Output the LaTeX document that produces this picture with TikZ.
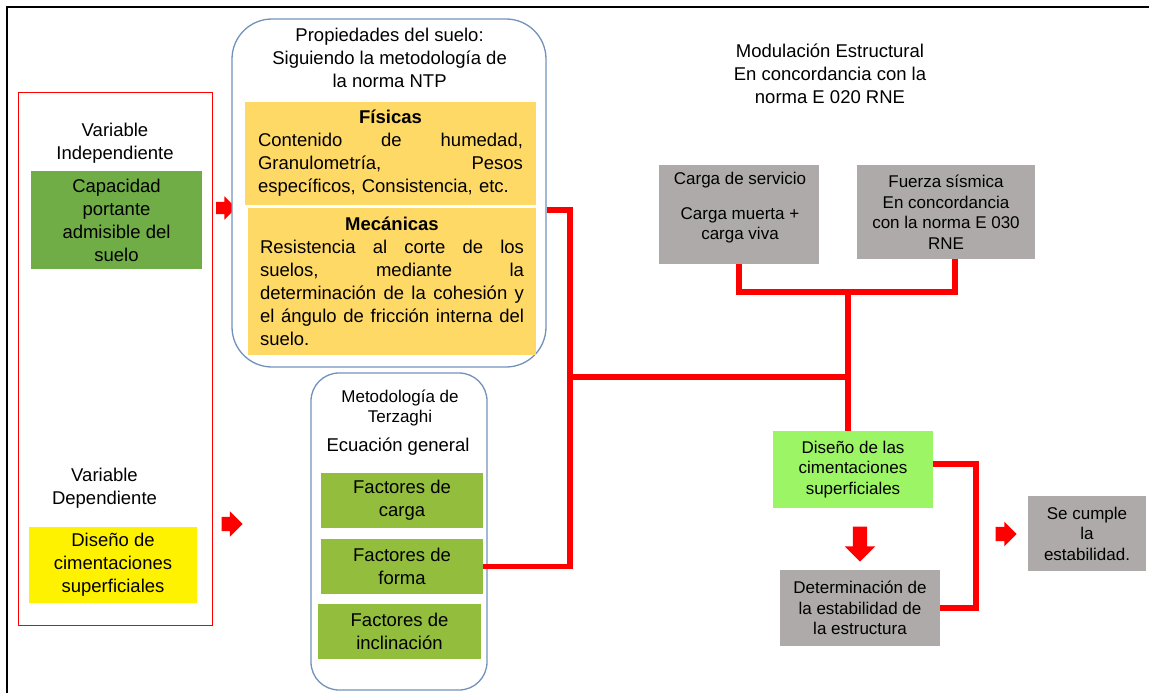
\documentclass[tikz,border=0pt]{standalone}
\usepackage{fontspec}
\setmainfont{Liberation Sans}
\usetikzlibrary{shapes.arrows}
\definecolor{dgreen}{RGB}{112,173,71}
\definecolor{ogreen}{RGB}{146,189,61}
\definecolor{lgreen}{RGB}{155,245,100}
\definecolor{ambar}{RGB}{255,217,102}
\definecolor{grisbox}{RGB}{174,170,170}
\definecolor{roundcol}{RGB}{114,146,186}
\begin{document}
\begin{tikzpicture}[x=1pt,y=-1pt,
  fb/.style={font=\fontsize{18.5}{23}\selectfont},
  fs/.style={font=\fontsize{17}{20.5}\selectfont},
  fillbox/.style={inner sep=0pt, align=center, text=black},
  redline/.style={draw=red, line width=5.5pt},
  barrow/.style={single arrow, fill=red, draw=none, inner xsep=0pt, outer sep=0pt, single arrow tip angle=90},
  roundbox/.style={draw=roundcol, line width=1.3pt, fill=white},
]
\useasboundingbox (0,0) rectangle (1149,693);
\fill[white] (0,0) rectangle (1149,693);
\draw[line width=2pt] (7,693) -- (7,7) -- (1149,7);

% variables
\node[draw=red, line width=1pt, minimum width=194pt, minimum height=532pt, inner sep=0pt] (vars) at (115,359) {};
\node[fb, align=center] (indlab) at (115,143.6) {Variable\\Independiente};
\node[fillbox, fb, fill=dgreen, minimum width=171pt, minimum height=98pt] (capac) at (116.5,220) {Capacidad\\portante\\admisible del\\suelo};
\node[fb, align=center] (deplab) at (104.5,488.6) {Variable\\Dependiente};
\node[fillbox, fb, fill=yellow, minimum width=168pt, minimum height=76pt] (ydep) at (113,565) {Diseño de\\cimentaciones\\superficiales};

% arrows
\node[barrow, inner ysep=6pt, minimum height=20pt, minimum width=23pt, single arrow head extend=5.5pt] (ar1) at (223,208) {};
\node[barrow, inner ysep=7pt, minimum height=21pt, minimum width=25pt, single arrow head extend=5.5pt] (ar2) at (228.5,524) {};
\node[barrow, inner ysep=7pt, rotate=-90, minimum height=35pt, minimum width=30pt, single arrow head extend=8pt] (ar3) at (860,540.5) {};
\node[barrow, inner ysep=7pt, minimum height=21pt, minimum width=24pt, single arrow head extend=5pt] (ar4) at (1002.5,534) {};

% propiedades
\node[roundbox, rounded corners=40pt, minimum width=314pt, minimum height=348pt] (prop) at (389,193) {};
\node[fb, align=center] (proptit) at (389.6,57.5) {Propiedades del suelo:\\Siguiendo la metodología de\\la norma NTP};
\node[fillbox, fb, fill=ambar, text width=265pt, inner xsep=13pt, minimum height=103pt, align=left] (fis) at (390.5,153.5)
 {\parindent=0pt\hfill\textbf{Físicas}\hfill\mbox{}\\Contenido\hfill de\hfill humedad,\\Granulometría,\hfill Pesos\\específicos, Consistencia, etc.};
\node[fillbox, fb, fill=ambar, text width=264pt, inner xsep=12pt, minimum height=147pt, align=left] (mec) at (392,281.5)
 {\parindent=0pt\hfill\textbf{Mecánicas}\hfill\mbox{}\\Resistencia\hfill al\hfill corte\hfill de\hfill los\\suelos,\hfill mediante\hfill la\\determinación\hfill de\hfill la\hfill cohesión\hfill y\\el\hfill ángulo\hfill de\hfill fricción\hfill interna\hfill del\\suelo.};

% Terzaghi
\node[roundbox, rounded corners=28pt, minimum width=176pt, minimum height=317pt] (terz) at (399,531.5) {};
\node[fs, align=center, font=\fontsize{17}{20}\selectfont] (terztit) at (400,408) {Metodología de\\Terzaghi};
\node[fb] (ecu) at (398,447) {Ecuación general};
\node[fillbox, fb, fill=ogreen, minimum width=162pt, minimum height=55pt] (fcarga) at (402,500.5) {Factores de\\carga};
\node[fillbox, fb, fill=ogreen, minimum width=162pt, minimum height=55pt] (fforma) at (402,566.5) {Factores de\\forma};
\node[fillbox, fb, fill=ogreen, minimum width=163pt, minimum height=55pt] (fincl) at (399.5,631.5) {Factores de\\inclinación};

% right part
\node[fb, align=center] (modul) at (830,73.5) {Modulación Estructural\\En concordancia con la\\norma E 020 RNE};
\node[fillbox, fill=grisbox, minimum width=160pt, minimum height=99pt] (serv) at (739,214.5) {};
\node[fs, align=center, font=\fontsize{17}{20}\selectfont] (servtxt) at (740,208) {Carga de servicio\\[15pt]Carga muerta +\\carga viva};
\node[fillbox, fs, fill=grisbox, minimum width=178pt, minimum height=94pt] (fuerza) at (946,212) {Fuerza sísmica\\En concordancia\\con la norma E 030\\RNE};
\node[fillbox, fs, fill=lgreen, minimum width=160pt, minimum height=77pt] (disl) at (853,469.5) {Diseño de las\\cimentaciones\\superficiales};
\node[fillbox, fs, fill=grisbox, minimum width=160pt, minimum height=76pt] (det) at (860,608) {Determinación de\\la estabilidad de\\la estructura};
\node[fillbox, fs, fill=grisbox, minimum width=118pt, minimum height=75pt] (cumple) at (1087,533.5) {Se cumple\\la\\estabilidad.};

% connectors
\coordinate (jT) at (570,210);
\coordinate (jA) at (570,377);
\coordinate (jC) at (848,292);
\coordinate (jD) at (955,292);
\coordinate (jE) at (976,464);
\draw[redline] (prop.east |- jT) -- (jT) -- (jA) |- (fforma.east);
\draw[redline] (jA) -- (jC |- jA);
\draw[redline] (serv.south) |- (jD) -- (jD |- fuerza.south);
\draw[redline] (jC) -- (jC |- disl.north);
\draw[redline] (disl.east |- jE) -- (jE) |- (det.east);
\end{tikzpicture}
\end{document}
